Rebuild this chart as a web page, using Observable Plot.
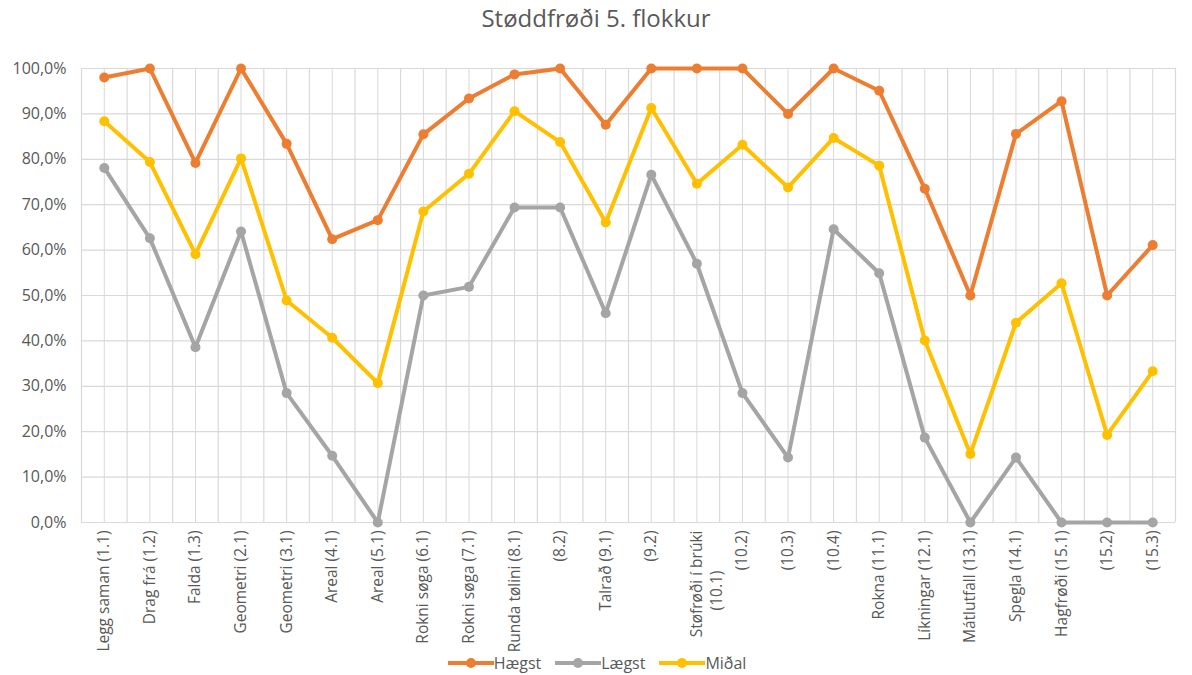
<!DOCTYPE html>
<html><head><meta charset="utf-8">
<script src="https://cdn.jsdelivr.net/npm/d3@7"></script>
<script src="https://cdn.jsdelivr.net/npm/@observablehq/plot@0.6"></script>
<style>
body{margin:0;background:#fff;font-family:"Open Sans",sans-serif;}
#wrap{position:relative;width:1192px;height:675px;overflow:hidden;background:#fff}
#title{height:44px;line-height:36px;text-align:center;font-size:24px;color:#595959;}
#legend{position:absolute;top:652px;left:0;width:1192px;display:flex;justify-content:center;gap:14px;font-size:16px;color:#595959;padding-left:2px;box-sizing:border-box}
.item{display:flex;align-items:center;gap:0px}
.item svg{display:block}
</style>
</head><body>
<div id="wrap">
<div id="title">Støddfrøði 5. flokkur</div>
<div id="chart"></div>
<div id="legend"></div>
</div>
<script>
const categories = ["Legg saman (1.1)","Drag frá (1.2)","Falda (1.3)","Geometri (2.1)","Geometri (3.1)","Areal (4.1)","Areal (5.1)","Rokni søga (6.1)","Rokni søga (7.1)","Runda tølini (8.1)","(8.2)","Talrað (9.1)","(9.2)","Støfrøði í brúki (10.1)","(10.2)","(10.3)","(10.4)","Rokna (11.1)","Líkningar (12.1)","Mátlutfall (13.1)","Spegla (14.1)","Hagfrøði (15.1)","(15.2)","(15.3)"];
const seriesNames = ["Hægst","Lægst","Miðal"];
const seriesColors = ["#ED7D31","#A5A5A5","#FFC000"];
const haegst = [98,100,79.2,100,83.4,62.4,66.6,85.5,93.4,98.7,100,87.6,100,100,100,90,100,95.1,73.5,50,85.6,92.8,50,61.1];
const laegst = [78.1,62.6,38.6,64.1,28.5,14.7,0,50,51.9,69.4,69.4,46.1,76.6,57,28.5,14.3,64.6,54.9,18.7,0,14.3,0,0,0];
const midal = [88.4,79.4,59.1,80.2,48.9,40.7,30.7,68.5,76.8,90.6,83.8,66.1,91.3,74.6,83.2,73.8,84.7,78.6,40.1,15.1,44,52.7,19.3,33.3];
const yTicks = [0,0.1,0.2,0.3,0.4,0.5,0.6,0.7,0.8,0.9,1];

const seriesValues = [haegst, laegst, midal];
const rows = seriesNames.flatMap((s, si) => categories.map((c, i) => ({series: s, cat: c, v: seriesValues[si][i] / 100})));

const W = 1192, mL = 81, mR = 17, mT = 24, mB = 153;
const step = (W - mL - mR) / categories.length;
const wrapped = "Støfrøði í brúki (10.1)";
const fmt = d => (d * 100).toFixed(1).replace(".", ",") + "%";
const grid = "#d9d9d9";

const seriesMarks = seriesNames.flatMap(s => {
  const d = rows.filter(r => r.series === s);
  return [
    Plot.line(d, {x: "cat", y: "v", stroke: "series", strokeWidth: 4, strokeLinejoin: "round"}),
    Plot.dot(d, {x: "cat", y: "v", fill: "series", r: 5})
  ];
});

const chart = Plot.plot({
  width: W, height: 631,
  marginLeft: mL, marginRight: mR, marginTop: mT, marginBottom: mB,
  style: {fontFamily: "'Open Sans', sans-serif", fontSize: "15px", color: "#595959", background: "#fff"},
  x: {type: "point", domain: categories, padding: 0.5, round: false, axis: null},
  y: {domain: [0, 1], axis: null},
  color: {domain: seriesNames, range: seriesColors},
  marks: [
    Plot.ruleY(yTicks, {stroke: grid, strokeWidth: 1.2}),
    Plot.ruleX(categories, {stroke: grid, strokeWidth: 1}),
    Plot.ruleX(categories, {stroke: grid, strokeWidth: 1.2, dx: -step / 2}),
    Plot.ruleX([categories[categories.length - 1]], {stroke: grid, strokeWidth: 1.2, dx: step / 2}),
    Plot.axisY({ticks: yTicks, tickFormat: fmt, tickSize: 0, tickPadding: 15, fontSize: 16, label: null}),
    Plot.text(categories, {x: d => d, text: d => d === wrapped ? "Støfrøði í brúki" : d, frameAnchor: "bottom", dy: 8, rotate: -90, textAnchor: "end", lineAnchor: "middle", fontSize: 15.5}),
    Plot.text([wrapped], {x: d => d, text: () => "(10.1)", frameAnchor: "bottom", dy: 68, dx: 20, rotate: -90, textAnchor: "middle", lineAnchor: "middle", fontSize: 15.5}),
    ...seriesMarks
  ]
});
document.getElementById("chart").appendChild(chart);

const legend = document.getElementById("legend");
seriesNames.forEach((s, i) => {
  const item = document.createElement("div");
  item.className = "item";
  item.innerHTML = `<svg width="46" height="12"><line x1="0" y1="6" x2="46" y2="6" stroke="${seriesColors[i]}" stroke-width="4"/><circle cx="23" cy="6" r="5" fill="${seriesColors[i]}"/></svg><span>${s}</span>`;
  legend.appendChild(item);
});
</script>
</body></html>
